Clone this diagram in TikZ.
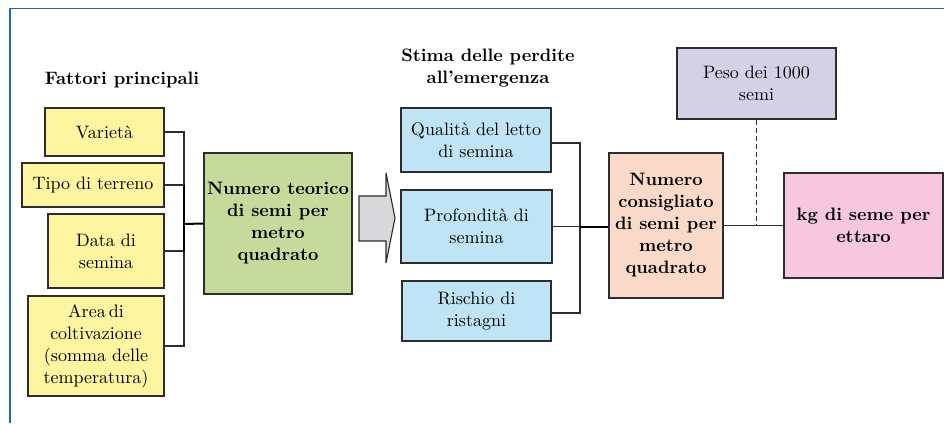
\documentclass[tikz,border=0pt]{standalone}
\usepackage{fontspec}
\setmainfont{lmroman10}[Extension=.otf,UprightFont=*-regular,BoldFont=*-bold,ItalicFont=*-italic,BoldItalicFont=*-bolditalic]
\definecolor{frameblue}{RGB}{25,105,185}
\definecolor{boxline}{RGB}{45,45,45}
\definecolor{cyellow}{RGB}{255,245,160}
\definecolor{cgreen}{RGB}{198,218,155}
\definecolor{cblue}{RGB}{190,228,246}
\definecolor{cpeach}{RGB}{250,217,200}
\definecolor{clav}{RGB}{212,208,230}
\definecolor{cpink}{RGB}{246,199,222}
\definecolor{cgray}{RGB}{217,217,219}
\begin{document}
\begin{tikzpicture}[x=1pt,y=-1pt,
  box/.style={draw=boxline,line width=1.3pt,rectangle,inner sep=0pt,align=center,
    font=\fontsize{18}{22}\selectfont},
  bbox/.style={box,font=\fontsize{18}{22}\selectfont\bfseries},
  conn/.style={draw=boxline,line width=1.2pt},
  thickconn/.style={draw=black,line width=2pt},
  title/.style={align=center,font=\fontsize{18}{22}\selectfont\bfseries}]
\useasboundingbox (0,0) rectangle (944,423);
\fill[white] (0,0) rectangle (944,423);
% frame
\draw[frameblue,line width=1.6pt] (10,423) -- (10,8.5) -- (944,8.5);
% titles
\node[title] (t1) at (122,80) {Fattori principali};
\node[title] (t2) at (488,68) {Stima delle perdite\\all’emergenza};
% left boxes
\node[box,fill=cyellow,minimum width=119,minimum height=48] (var) at (104.5,132) {Varietà};
\node[box,fill=cyellow,minimum width=142,minimum height=44] (tipo) at (93,185) {Tipo di terreno};
\node[box,fill=cyellow,minimum width=116,minimum height=74] (data) at (106,251) {Data di\\semina};
\node[box,fill=cyellow,minimum width=136,minimum height=100] (area) at (96,346) {Area\,di\\coltivazione\\(somma delle\\temperatura)};
% green
\node[bbox,fill=cgreen,minimum width=148,minimum height=141] (green) at (278,223.5) {Numero teorico\\di semi per\\metro\\quadrato};
% arrow
\filldraw[fill=cgray,draw=boxline,line width=1.1pt] (359,196) -- (386,196) -- (386,173) -- (395,218) -- (386,263) -- (386,241) -- (359,241) -- cycle;
% blue boxes
\node[box,fill=cblue,minimum width=150,minimum height=64] (qual) at (476,140) {Qualità del letto\\di semina};
\node[box,fill=cblue,minimum width=151,minimum height=73] (prof) at (476.5,226.5) {Profondità di\\semina};
\node[box,fill=cblue,minimum width=149,minimum height=60] (risc) at (476.5,311) {Rischio di\\ristagni};
% orange
\node[bbox,fill=cpeach,minimum width=114,minimum height=145] (orng) at (666,225.5) {Numero\\consigliato\\di semi per\\metro\\quadrato};
% purple
\node[box,fill=clav,minimum width=159,minimum height=71] (purp) at (756.5,83.5) {Peso dei 1000\\semi};
% pink
\node[bbox,fill=cpink,minimum width=159,minimum height=105] (pink) at (863.5,225.5) {kg di seme per\\ettaro};
% left connectors
\coordinate (busL) at (184,224);
\draw[conn] (var.east) -| (busL);
\draw[conn] (tipo.east) -| (busL);
\draw[conn] (data.east) -| (busL);
\draw[conn] (area.east) -| (busL);
\draw[line width=2pt] (tipo.east -| busL) -- (data.east -| busL);
\draw[thickconn] (busL) -- (green.west);
% right connectors
\coordinate (busR) at (580,227);
\draw[conn] ([yshift=-3pt]qual.east) -| (busR);
\draw[conn] (prof.east) -| (busR);
\draw[conn] ([yshift=-2pt]risc.east) -| (busR);
\draw[thickconn] (busR) -- (busR -| orng.west);
% to pink
\coordinate (dj) at (purp.south |- pink.west);
\draw[conn] (orng.east) -- (pink.west);
\draw[conn,dashed,dash pattern=on 5pt off 3pt] (purp.south) -- (dj);
\end{tikzpicture}
\end{document}
